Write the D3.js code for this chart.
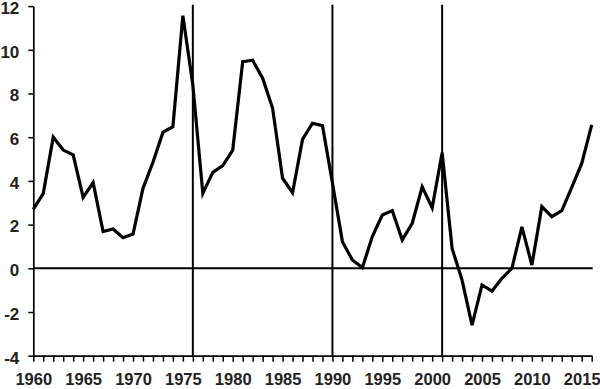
<!DOCTYPE html>
<html>
<head>
<meta charset="utf-8">
<script src="https://cdn.jsdelivr.net/npm/d3@7"></script>
<style>
html,body{margin:0;padding:0;background:#fff;}
svg{display:block;}
</style>
</head>
<body>
<svg id="chart" width="600" height="389"></svg>
<script>
const years = d3.range(1960, 2017);
const values = [2.7, 3.43, 6.0, 5.41, 5.19, 3.25, 3.92, 1.68, 1.8, 1.4,
  1.57, 3.66, 4.85, 6.22, 6.48, 11.56, 8.39, 3.43, 4.39, 4.7,
  5.41, 9.46, 9.52, 8.7, 7.32, 4.12, 3.46, 5.9, 6.64, 6.53,
  3.9, 1.22, 0.38, 0.03, 1.45, 2.44, 2.64, 1.3, 2.06, 3.73,
  2.77, 5.29, 0.91, -0.54, -2.6, -0.76, -1.04, -0.46, 0.0, 1.9,
  0.15, 2.82, 2.36, 2.64, 3.7, 4.8, 6.56];
const markerYears = [1976, 1990, 2001];
const yTicks = [-4, -2, 0, 2, 4, 6, 8, 10, 12];
const xLabelYears = [1960, 1965, 1970, 1975, 1980, 1985, 1990, 1995, 2000, 2005, 2010, 2015];

const FONT = '"Liberation Sans", Arial, Helvetica, sans-serif';
const svg = d3.select("#chart");
const x = d3.scaleLinear().domain([1960, 2016]).range([33.3, 591.7]);
const y = d3.scaleLinear().domain([-4, 12]).range([355.7, 6.1]);

// Y axis
const yAxis = svg.append("g").attr("transform", `translate(${x(1960)},0)`)
  .call(d3.axisLeft(y).tickValues(yTicks).tickSize(5).tickSizeOuter(0).tickFormat(d => String(d)));
yAxis.attr("font-family", FONT).attr("font-size", 17).attr("font-weight", "bold");
yAxis.select(".domain").attr("stroke", "#000").attr("stroke-width", 1.7);
yAxis.selectAll(".tick line").attr("stroke", "#000").attr("stroke-width", 1.5);
yAxis.selectAll(".tick text").attr("x", -14).attr("dy", "0.43em").attr("fill", "#222");

// X axis
const xAxis = svg.append("g").attr("transform", `translate(0,${y(-4)})`)
  .call(d3.axisBottom(x).tickValues(years).tickSize(6).tickSizeOuter(0)
    .tickFormat(d => xLabelYears.includes(d) ? String(d) : ""));
xAxis.attr("font-family", FONT).attr("font-size", 16.5).attr("font-weight", "bold");
xAxis.selectAll(".tick text").attr("y", 29.5).attr("dy", null).attr("fill", "#222");
xAxis.select(".domain").attr("stroke", "#000").attr("stroke-width", 1.7);
xAxis.selectAll(".tick line").attr("stroke", "#000").attr("stroke-width", 1.5);

// zero line
svg.append("line")
  .attr("x1", x(1960)).attr("x2", x(2016) + 1)
  .attr("y1", y(0)).attr("y2", y(0))
  .attr("stroke", "#000").attr("stroke-width", 2);

// vertical marker lines
svg.selectAll(".vline").data(markerYears).join("line")
  .attr("class", "vline")
  .attr("x1", d => x(d)).attr("x2", d => x(d))
  .attr("y1", y(12) - 1.4).attr("y2", y(-4))
  .attr("stroke", "#000").attr("stroke-width", 2);

// data line
const line = d3.line().x((d, i) => x(years[i])).y(d => y(d));
svg.append("path").datum(values)
  .attr("d", line)
  .attr("fill", "none").attr("stroke", "#000")
  .attr("stroke-width", 3.2).attr("stroke-linejoin", "miter").attr("stroke-miterlimit", 4);
</script>
</body>
</html>
